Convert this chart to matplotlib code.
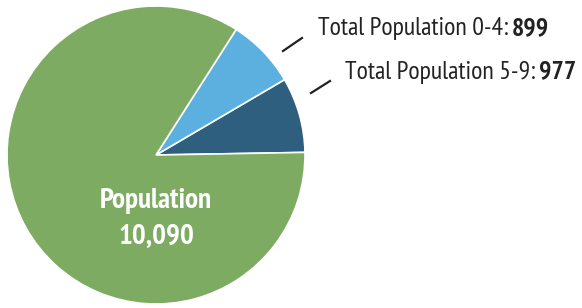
import matplotlib
matplotlib.use("Agg")
import matplotlib.pyplot as plt

# slice values, drawn counter-clockwise from just above the 3 o'clock position
labels = ["Total Population 5-9", "Total Population 0-4", "Population"]
values = [977, 899, 10090]
colors = ["#2f5f7e", "#5cb0e0", "#7eab62"]

plt.rcParams['font.family'] = ['PT Sans Narrow', 'DejaVu Sans']

fig = plt.figure(figsize=(5.82, 3.08), dpi=100)
ax = fig.add_axes([0, 0, 1, 1])

ax.pie(values, colors=colors, startangle=1, counterclock=True,
       center=(156, 153), radius=149,
       wedgeprops=dict(edgecolor='white', linewidth=1.2))
ax.set_xlim(0, 582)
ax.set_ylim(0, 308)
ax.set_aspect('equal')
ax.axis('off')

# big label inside the green slice
ax.text(156, 107, labels[2], color='white', fontsize=21, fontweight='bold',
        ha='center', va='center')
ax.text(156, 71, f"{values[2]:,}", color='white', fontsize=21, fontweight='bold',
        ha='center', va='center')

fig.canvas.draw()
renderer = fig.canvas.get_renderer()

def callout(x, y, name, value, line):
    t = ax.text(x, y, name + ": ", fontsize=18.6, color='#222222',
                ha='left', va='center')
    fig.canvas.draw()
    bb = t.get_window_extent(renderer).transformed(ax.transData.inverted())
    ax.text(bb.x1 - 2, y, str(value), fontsize=18.6, fontweight='bold',
            color='#222222', ha='left', va='center')
    ax.plot(line[0], line[1], color='#222222', lw=1.6)

callout(318, 279, labels[1], values[1], ([283, 302], [257, 270]))
callout(345, 236, labels[0], values[0], ([311, 330], [215, 227]))

fig.savefig("out.png", dpi=100)
